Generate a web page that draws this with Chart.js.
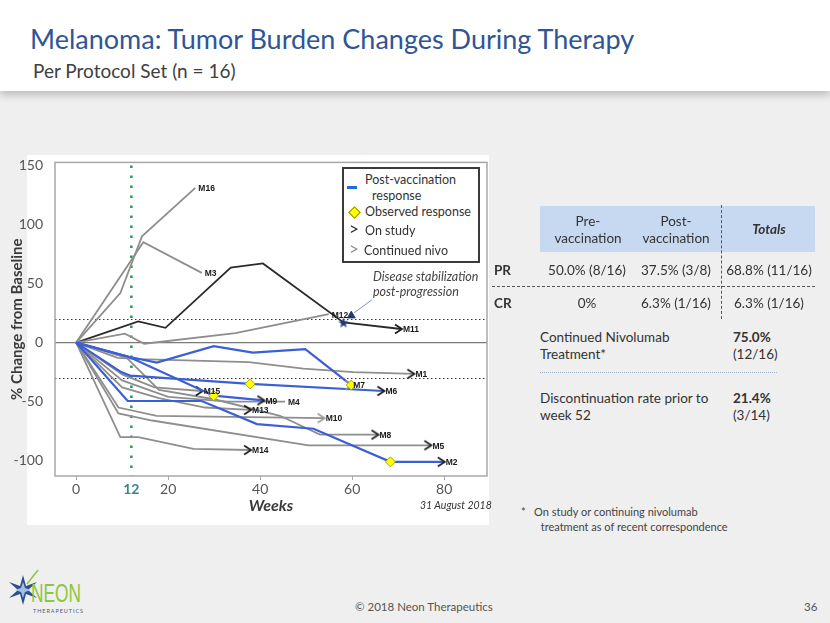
<!DOCTYPE html>
<html><head><meta charset="utf-8">
<script src="https://cdn.jsdelivr.net/npm/chart.js@4.4.1/dist/chart.umd.min.js"></script>
<style>
html,body{margin:0;padding:0;}
body{width:830px;height:623px;position:relative;overflow:hidden;background:#efefef;font-family:Lato,'Open Sans',sans-serif;color:#333;}
.abs{position:absolute;white-space:nowrap;}
#header{position:absolute;left:0;top:0;width:830px;height:91px;background:#fff;box-shadow:0 4px 8px rgba(0,0,0,0.22);}
#title{left:30px;top:22px;font-size:27px;line-height:34px;color:#2f5597;}
#subtitle{left:33px;top:59px;font-size:19px;line-height:24px;color:#404040;}
#chartbox{position:absolute;left:27px;top:155px;width:462px;height:370px;background:#fff;}
#wrap{position:absolute;left:0;top:150px;width:500px;height:380px;}
#legend{position:absolute;left:342px;top:167px;width:134px;height:92px;border:2px solid #3a3a3a;background:#fff;}
.lg{position:absolute;font-size:12.5px;line-height:16px;color:#333;white-space:nowrap;}
.hdr{background:#c6d9f0;}
.cell{position:absolute;font-size:13.5px;line-height:16px;text-align:center;color:#333;white-space:nowrap;}
.side{position:absolute;font-size:13.5px;line-height:17px;color:#333;white-space:nowrap;}
</style></head>
<body>
<div id="header"></div>
<div id="title" class="abs">Melanoma: Tumor Burden Changes During Therapy</div>
<div id="subtitle" class="abs">Per Protocol Set (n = 16)</div>
<div id="chartbox"></div>
<div id="wrap"><canvas id="c" width="500" height="380"></canvas></div>

<div id="legend">
  <div style="position:absolute;left:3px;top:17px;width:10px;height:3px;background:#1e6ed1"></div>
  <div class="lg" style="left:21px;top:3px">Post-vaccination</div>
  <div class="lg" style="left:28px;top:19px">response</div>
  <div style="position:absolute;left:6px;top:39px;width:7px;height:7px;background:#ffff00;border:1px solid #8a8a00;transform:rotate(45deg)"></div>
  <div class="lg" style="left:21px;top:35px">Observed response</div>
  <div class="lg" style="left:5px;top:52px;font-size:17px;color:#222">&gt;</div>
  <div class="lg" style="left:21px;top:54px">On study</div>
  <div class="lg" style="left:5px;top:72px;font-size:17px;color:#8a8a8a">&gt;</div>
  <div class="lg" style="left:20px;top:74px">Continued nivo</div>
</div>

<!-- table -->
<div class="hdr" style="position:absolute;left:540px;top:206px;width:275px;height:46px;"></div>
<div class="cell" style="left:545px;width:86px;top:213px;line-height:17px">Pre-<br>vaccination</div>
<div class="cell" style="left:632px;width:88px;top:213px;line-height:17px">Post-<br>vaccination</div>
<div class="cell" style="left:724px;width:90px;top:221px;font-style:italic;font-weight:bold;">Totals</div>
<div style="position:absolute;left:721px;top:205px;height:114px;border-left:1.5px dashed #555;"></div>
<div style="position:absolute;left:492px;top:286px;width:323px;border-top:1.5px dashed #555;"></div>
<div class="cell" style="left:494px;width:24px;top:262px;font-weight:bold;text-align:left">PR</div>
<div class="cell" style="left:494px;width:24px;top:295px;font-weight:bold;text-align:left">CR</div>
<div class="cell" style="left:540px;width:94px;top:262px">50.0% (8/16)</div>
<div class="cell" style="left:632px;width:88px;top:262px">37.5% (3/8)</div>
<div class="cell" style="left:724px;width:90px;top:262px">68.8% (11/16)</div>
<div class="cell" style="left:540px;width:94px;top:295px">0%</div>
<div class="cell" style="left:632px;width:88px;top:295px">6.3% (1/16)</div>
<div class="cell" style="left:724px;width:90px;top:295px">6.3% (1/16)</div>

<div class="side" style="left:540px;top:329px">Continued Nivolumab<br>Treatment*</div>
<div class="side" style="left:733px;top:329px"><b>75.0%</b><br>(12/16)</div>
<div style="position:absolute;left:540px;top:372px;width:237px;border-top:1px dotted #9fb0c8;"></div>
<div class="side" style="left:540px;top:390px">Discontinuation rate prior to<br>week 52</div>
<div class="side" style="left:733px;top:390px"><b>21.4%</b><br>(3/14)</div>

<div class="abs" style="left:521px;top:504px;font-size:11px;line-height:15px;color:#444">*&nbsp;&nbsp;&nbsp;On study or continuing nivolumab<br>&nbsp;&nbsp;&nbsp;&nbsp;&nbsp;&nbsp;&nbsp;treatment as of recent correspondence</div>
<div class="abs" style="left:420px;top:498px;font-size:10.5px;line-height:14px;font-style:italic;color:#333">31 August 2018</div>

<!-- footer -->
<svg style="position:absolute;left:6px;top:568px" width="100" height="50" viewBox="0 0 100 50">
  <g transform="translate(17,22)">
    <polygon points="0,-15 3,-4 14,-8 5,0 14,8 3,4 0,15 -3,4 -14,8 -5,0 -14,-8 -3,-4" fill="#2d4f8e"/>
    <polygon points="0,-8 2,-2 8,0 2,2 0,8 -2,2 -8,0 -2,-2" fill="#9fc1e6"/>
    <line x1="4" y1="-6" x2="15" y2="-20" stroke="#8dc63f" stroke-width="1.5"/>
  </g>
  <text x="25" y="34" font-family="'Liberation Sans Narrow',sans-serif" font-size="25" fill="#8dc63f" textLength="50" lengthAdjust="spacingAndGlyphs">NEON</text>
  <text x="27" y="45" font-family="Lato,sans-serif" font-size="5.5" fill="#4a5a7a" textLength="50" lengthAdjust="spacing">THERAPEUTICS</text>
</svg>
<div class="abs" style="left:355px;top:599px;font-size:11.5px;line-height:16px;color:#555">© 2018 Neon Therapeutics</div>
<div class="abs" style="left:804px;top:599px;font-size:11.5px;line-height:16px;color:#555">36</div>

<script>
// ---- data (weeks, % change from baseline) ----
const xTickValues = [0, 12, 20, 40, 60, 80];
const yTickValues = [-100, -50, 0, 50, 100, 150];
const refLinesY = [20, -30];
const refLineX = 12;

const m16Weeks = [0, 9.6, 14.3, 25.9];            const m16Pct = [0, 42, 90, 131];
const m3Weeks  = [0, 14.6, 27.3];                  const m3Pct  = [0, 85, 59];
const m11Weeks = [0, 13.5, 19.4, 33.6, 40.6, 58.1, 70.6]; const m11Pct = [0, 18, 12.5, 63.5, 67, 17, 11.5];
const m12Weeks = [0, 10.6, 14.8, 34.6, 54.9];      const m12Pct = [0, 7.5, -1, 8, 24];
const m1Weeks  = [0, 9, 14, 37.5, 49.4, 60.3, 73.3]; const m1Pct = [0, -13, -14, -16.5, -22, -25, -26.5];
const m7Weeks  = [0, 11.4, 17.5, 29.9, 38.4, 49.8, 59.8]; const m7Pct = [0, -12, -17, -3, -8.5, -5.5, -36];
const m6Weeks  = [0, 9.8, 11.7, 37.8, 66.8];       const m6Pct  = [0, -25, -28, -35, -41];
const m9Weeks  = [0, 11.4, 29.9, 40.7];            const m9Pct  = [0, -12, -45, -49];
const m2Weeks  = [0, 11.2, 27.3, 39.3, 51.6, 68.3, 79.9]; const m2Pct = [0, -49.5, -49.5, -69, -73, -101, -101];
const m15Weeks = [0, 10, 17, 27.3];                const m15Pct = [0, -27, -38, -41];
const m4Weeks  = [0, 10, 20, 33, 45.4];            const m4Pct  = [0, -32, -46, -50, -50];
const m13Weeks = [0, 10, 18, 28, 37.8];            const m13Pct = [0, -38, -47, -55, -57];
const m8Weeks  = [0, 11, 18, 30, 44.3, 53, 65.5];  const m8Pct  = [0, -13, -40, -48, -62, -78, -78];
const m10Weeks = [0, 9.2, 17.5, 53.8];             const m10Pct = [0, -55, -62, -64];
const m5Weeks  = [0, 9.2, 16.5, 50.5, 77];         const m5Pct  = [0, -60, -66, -87, -87];
const m14Weeks = [0, 9.6, 13.5, 25.5, 37.8];       const m14Pct = [0, -80, -80, -90, -91];

const responseWeeks = [29.9, 37.8, 59.8, 68.3];
const responsePct   = [-45, -35, -36, -101];
const stabilWeeks = [58.1, 59.8];
const stabilPct   = [17, 22.8];
const annotWeeks = 64.5;
const annotPct = [55.5, 43];
const annotText = ['Disease stabilization', 'post-progression'];

// patient: name, weeks, pct, kind (gray/blue/black), end marker (on / nivo / none)
const patients = [
  ['M16', m16Weeks, m16Pct, 'gray', 'none'],
  ['M3',  m3Weeks,  m3Pct,  'gray', 'none'],
  ['M12', m12Weeks, m12Pct, 'gray', 'none'],
  ['M11', m11Weeks, m11Pct, 'black','on'],
  ['M1',  m1Weeks,  m1Pct,  'gray', 'on'],
  ['M15', m15Weeks, m15Pct, 'gray', 'on'],
  ['M4',  m4Weeks,  m4Pct,  'gray', 'none'],
  ['M13', m13Weeks, m13Pct, 'gray', 'on'],
  ['M8',  m8Weeks,  m8Pct,  'gray', 'on'],
  ['M10', m10Weeks, m10Pct, 'gray', 'nivo'],
  ['M5',  m5Weeks,  m5Pct,  'gray', 'on'],
  ['M14', m14Weeks, m14Pct, 'gray', 'on'],
  ['M7',  m7Weeks,  m7Pct,  'blue', 'nivo'],
  ['M6',  m6Weeks,  m6Pct,  'blue', 'on'],
  ['M9',  m9Weeks,  m9Pct,  'blue', 'on'],
  ['M2',  m2Weeks,  m2Pct,  'blue', 'on'],
];
const colors = {gray:'#8e8e8e', blue:'#3a5fd6', black:'#2a2a2a'};

function makeArrow(color){
  const c=document.createElement('canvas'); c.width=20; c.height=12;
  const g=c.getContext('2d'); g.strokeStyle=color; g.lineWidth=1.7;
  g.beginPath(); g.moveTo(4,1.5); g.lineTo(11,6); g.lineTo(4,10.5); g.stroke();
  return c;
}
function makeStar(color){
  const c=document.createElement('canvas'); c.width=12; c.height=12;
  const g=c.getContext('2d'); g.fillStyle=color; g.beginPath();
  for(let i=0;i<10;i++){const r=i%2?2.3:5.5; const a=-Math.PI/2+i*Math.PI/5; g.lineTo(6+r*Math.cos(a),6.5+r*Math.sin(a));}
  g.closePath(); g.fill(); return c;
}
const arrowOn = makeArrow('#1a1a1a');
const arrowNivo = makeArrow('#9a9a9a');
const starImg = makeStar('#1f3a78');

const datasets = patients.map(([name, wk, pct, kind, end]) => ({
  label: name,
  data: wk.map((w,i)=>({x:w, y:pct[i]})),
  showLine: true,
  borderColor: colors[kind],
  borderWidth: kind==='blue'?2.2:1.8,
  tension: 0,
  endMarker: end,
  pointRadius: ctx => (end!=='none' && ctx.dataIndex===wk.length-1) ? 4 : 0,
  pointStyle: ctx => (ctx.dataIndex===wk.length-1 && end!=='none') ? (end==='on'?arrowOn:arrowNivo) : 'circle',
  pointHoverRadius: 0,
  order: kind==='blue'?1:2
}));
datasets.push({
  label:'Observed response', data: responseWeeks.map((w,i)=>({x:w,y:responsePct[i]})),
  showLine:false, pointStyle:'rectRot', pointRadius:5, backgroundColor:'#ffff00', borderColor:'#a8a800', borderWidth:1, order:0, noLabel:true
});
datasets.push({
  label:'Stabilization', data: stabilWeeks.map((w,i)=>({x:w,y:stabilPct[i]})),
  showLine:false, pointStyle:[starImg,'triangle'], pointRadius:[5,4.5], backgroundColor:'#1f3a78', borderColor:'#1f3a78', borderWidth:1, order:0, noLabel:true
});

const refPlugin = {
  id:'refs',
  beforeDatasetsDraw(chart){
    const {ctx, chartArea:a, scales:{x,y}} = chart;
    ctx.save();
    ctx.strokeStyle='#7a7a7a'; ctx.lineWidth=1.2; ctx.setLineDash([]);
    ctx.beginPath(); ctx.moveTo(a.left,y.getPixelForValue(0)); ctx.lineTo(a.right,y.getPixelForValue(0)); ctx.stroke();
    ctx.strokeStyle='#333'; ctx.lineWidth=1; ctx.setLineDash([1.5,2.5]);
    refLinesY.forEach(v=>{const py=Math.round(y.getPixelForValue(v))+0.5; ctx.beginPath(); ctx.moveTo(a.left,py); ctx.lineTo(a.right,py); ctx.stroke();});
    ctx.strokeStyle='#1f9e4f'; ctx.lineWidth=2.5; ctx.setLineDash([2.5,7.5]);
    const px=x.getPixelForValue(refLineX);
    ctx.beginPath(); ctx.moveTo(px,a.top+3); ctx.lineTo(px,a.bottom); ctx.stroke();
    ctx.setLineDash([]); ctx.strokeStyle='#a8a8a8'; ctx.lineWidth=1.5;
    ctx.strokeRect(a.left,a.top,a.right-a.left,a.bottom-a.top);
    ctx.restore();
  },
  afterDatasetsDraw(chart){
    const {ctx, scales:{x,y}} = chart;
    ctx.save();
    ctx.font = "bold 8.5px 'Liberation Sans Narrow','Arial Narrow',sans-serif";
    ctx.fillStyle='#1a1a1a'; ctx.textBaseline='middle'; ctx.textAlign='left';
    chart.data.datasets.forEach((ds,i)=>{
      if(ds.noLabel) return;
      const meta=chart.getDatasetMeta(i); const pt=meta.data[meta.data.length-1];
      ctx.fillText(ds.label, pt.x+(ds.endMarker==='none'?3:2), pt.y+1);
    });
    const tri = chart.getDatasetMeta(chart.data.datasets.length-1).data[1];
    const ax = x.getPixelForValue(annotWeeks);
    ctx.font = "italic 12.5px Lato,sans-serif"; ctx.fillStyle='#444';
    annotText.forEach((t,k)=>ctx.fillText(t, ax, y.getPixelForValue(annotPct[k])));
    ctx.strokeStyle='#5a7ab8'; ctx.lineWidth=0.8;
    ctx.beginPath(); ctx.moveTo(ax-1, y.getPixelForValue(annotPct[1])+8); ctx.lineTo(tri.x+3, tri.y-3); ctx.stroke();
    ctx.restore();
  }
};

new Chart(document.getElementById('c'), {
  type:'scatter',
  data:{datasets},
  options:{
    responsive:false, animation:false,
    layout:{padding:{left:0,top:11,right:13,bottom:0}},
    plugins:{legend:{display:false}, tooltip:{enabled:false}},
    scales:{
      x:{type:'linear', min:-4.6, max:89.3,
        afterBuildTicks: s=>{ s.ticks = xTickValues.map(v=>({value:v})); },
        afterFit: s=>{ s.height = 54; },
        grid:{drawOnChartArea:false, tickLength:4, color: c=> c.tick && c.tick.value===12 ? 'rgba(0,0,0,0)' : '#a8a8a8'},
        border:{display:false},
        ticks:{padding:1, autoSkip:false, maxRotation:0,
          color: c=> c.tick && c.tick.value===12 ? '#2f8a86' : '#555',
          font: c=> c.tick && c.tick.value===12 ? {family:'Lato', size:14, weight:'bold'} : {family:'Lato', size:14}},
        title:{display:true, text:'Weeks', color:'#3a3a3a', font:{family:'Lato', size:16, weight:'bold', style:'italic'}, padding:{top:0,bottom:15}}
      },
      y:{type:'linear', min:-113, max:152.6,
        afterBuildTicks: s=>{ s.ticks = yTickValues.map(v=>({value:v})); },
        afterFit: s=>{ s.width = 55; },
        grid:{display:false}, border:{display:false},
        ticks:{padding:4, color:'#555', font:{family:'Lato', size:14}},
        title:{display:true, text:'% Change from Baseline', color:'#3a3a3a', font:{family:'Lato', size:15, weight:'bold'}, padding:{top:8,bottom:0}}
      }
    }
  },
  plugins:[refPlugin]
});
</script>
</body></html>
